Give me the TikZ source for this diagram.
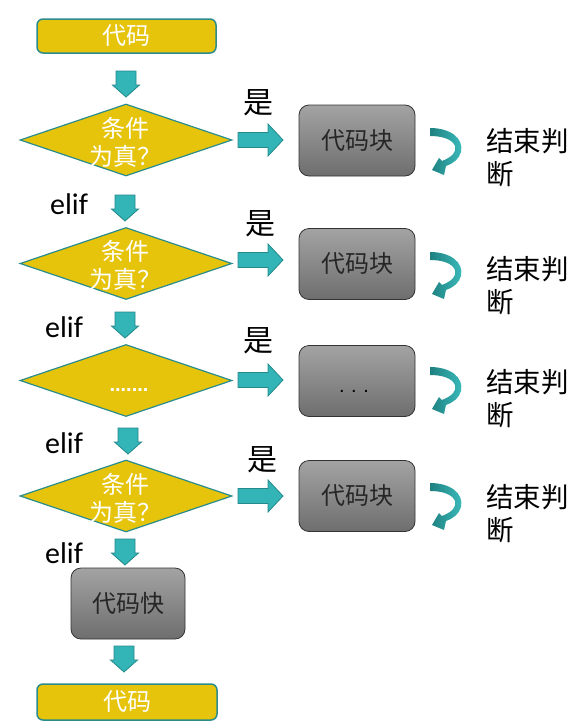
\documentclass[tikz,border=0pt]{standalone}
\usepackage{fontspec}
\newfontfamily\cjk{Noto Sans CJK SC}
\newfontfamily\elfont{Carlito}
\newfontfamily\dotfont{Liberation Sans}
\usetikzlibrary{shapes.geometric}
\definecolor{ylw}{HTML}{E6C40C}
\definecolor{tealb}{HTML}{2A8C8C}
\definecolor{arrf}{HTML}{33B5B8}
\definecolor{arrd}{HTML}{23898B}
\definecolor{gtop}{HTML}{A3A3A3}
\definecolor{gbot}{HTML}{6E6E6E}
\definecolor{cdark}{HTML}{1F8080}
\definecolor{clight}{HTML}{3CBDBD}
\tikzset{
  ybox/.style={draw=tealb, line width=1.5pt, fill=ylw, rounded corners=6pt, minimum width=179pt, minimum height=34pt, inner sep=0pt, text=white, font=\cjk\fontsize{24}{26}\selectfont},
  cond/.style={diamond, draw=tealb, line width=1.2pt, fill=ylw, minimum width=212pt, minimum height=72pt, inner sep=0pt, aspect=2.9},
  condtext/.style={inner sep=0pt, text=white, align=center, font=\cjk\fontsize{24}{28}\selectfont},
  gbox/.style={draw=black!80, line width=0.8pt, rounded corners=10pt, top color=gtop, bottom color=gbot, minimum width=116pt, minimum height=71pt, inner sep=0pt, text=black!85, font=\cjk\fontsize{24}{26}\selectfont},
  yeslbl/.style={inner sep=0pt, font=\cjk\fontsize{30}{30}\selectfont},
  eliflbl/.style={inner sep=0pt, font=\elfont\fontsize{30}{30}\selectfont},
  endlbl/.style={inner sep=0pt, anchor=west, align=left, font=\cjk\fontsize{27.5}{33}\selectfont},
  blockarr/.style={fill=arrf, draw=arrd, line width=0.8pt, line join=miter},
  darr/.pic={\path[blockarr] (-10,0) -- (10,0) -- (10,14) -- (13.5,14) -- (0,26) -- (-13.5,14) -- (-10,14) -- cycle;},
  rarr/.pic={\path[blockarr] (0,-7.5) -- (30,-7.5) -- (30,-16) -- (45,0) -- (30,16) -- (30,7.5) -- (0,7.5) -- cycle;},
  carr/.pic={\path[left color=cdark, right color=clight] (0,0) .. controls (20,0) and (34,10) .. (31,24) .. controls (29,31) and (24,35) .. (16,38) -- (14,47) -- (2,42) -- (9,30) -- (12,33) .. controls (22,29) and (27,24) .. (25,18) .. controls (22,11) and (12,8) .. (0,8) -- cycle;},
}
\begin{document}
\begin{tikzpicture}[x=1pt,y=-1pt]
\useasboundingbox (0,0) rectangle (583,723);
% main column
\node[ybox] (top) at (126.5,36) {代码};
\pic (d1) at (126,71) {darr};
\node[cond] (c1) at (126,140) {};
\node[condtext] (c1t) at (125,142) {条件\\为真？};
\node[eliflbl] (e1) at (69,204) {elif};
\pic (d2) at (125,195) {darr};
\node[cond] (c2) at (126,263.5) {};
\node[condtext] (c2t) at (125,265.5) {条件\\为真？};
\node[eliflbl] (e2) at (64,327) {elif};
\pic (d3) at (125,312) {darr};
\node[cond] (c3) at (126,380.5) {};
\node[anchor=base, inner sep=0pt, text=white, font=\dotfont\bfseries\fontsize{20}{20}\selectfont] (c3t) at (129,391) {.......};
\node[eliflbl] (e3) at (64,443) {elif};
\pic (d4) at (128,428) {darr};
\node[cond] (c4) at (126,496) {};
\node[condtext] (c4t) at (125,498) {条件\\为真？};
\node[eliflbl] (e4) at (64,553) {elif};
\pic (d5) at (125,539) {darr};
\node[gbox, minimum width=114pt] (b5) at (128,603.5) {代码快};
\pic (d6) at (124,646) {darr};
\node[ybox, minimum width=180pt, minimum height=36pt] (bot) at (127,702) {代码};
% row 1
\node[yeslbl] (y1) at (258,103) {是};
\pic (r1) at (238,140) {rarr};
\node[gbox] (b1) at (357,140.5) {代码块};
\pic (k1) at (430,128) {carr};
\node[endlbl] (t1) at (486,158) {结束判\\断};
% row 2
\node[yeslbl] (y2) at (260,224) {是};
\pic (r2) at (238,260) {rarr};
\node[gbox] (b2) at (357,264) {代码块};
\pic (k2) at (430,252) {carr};
\node[endlbl] (t2) at (486,286) {结束判\\断};
% row 3
\node[yeslbl] (y3) at (258,341) {是};
\pic (r3) at (238,380) {rarr};
\node[gbox] (b3) at (357,381) {};
\node[anchor=base, inner sep=0pt, text=black, font=\dotfont\fontsize{20}{20}\selectfont] (b3t) at (354,392) {.\,\,.\,\,.};
\pic (k3) at (430,367) {carr};
\node[endlbl] (t3) at (486,399) {结束判\\断};
% row 4
\node[yeslbl] (y4) at (262,460) {是};
\pic (r4) at (238,496) {rarr};
\node[gbox] (b4) at (357,496) {代码块};
\pic (k4) at (430,483) {carr};
\node[endlbl] (t4) at (486,514) {结束判\\断};
\end{tikzpicture}
\end{document}
